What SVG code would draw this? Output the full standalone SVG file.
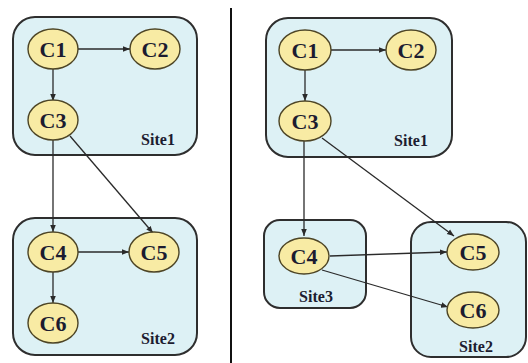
<svg xmlns="http://www.w3.org/2000/svg" width="528" height="363" viewBox="0 0 528 363">
  <defs>
    <style>
      .site { fill: #ddf1f5; stroke: #2e2e2e; stroke-width: 2; }
      .node ellipse { fill: #f8eba4; stroke: #4d4526; stroke-width: 1.4; }
      .node text { font-family: "Liberation Serif", "DejaVu Serif", serif; font-weight: bold; font-size: 22px; fill: #1c1c30; text-anchor: middle; }
      .label { font-family: "Liberation Serif", "DejaVu Serif", serif; font-weight: bold; font-size: 16px; fill: #1c1c30; text-anchor: middle; }
      .edge { stroke: #2a2a2a; stroke-width: 1.3; fill: none; marker-end: url(#arrow); }
      .divider { stroke: #111; stroke-width: 2; }
    </style>
    <marker id="arrow" viewBox="0 0 10 10" refX="10" refY="5" markerWidth="7" markerHeight="7" markerUnits="userSpaceOnUse" orient="auto">
      <path d="M0,1 L10,5 L0,9 z" fill="#2a2a2a"/>
    </marker>
  </defs>
  <rect width="528" height="363" fill="#ffffff"/>

  <line class="divider" x1="231" y1="8" x2="231" y2="363"/>

  <!-- left configuration: sites -->
  <g id="left-site1">
    <rect class="site" x="13" y="17" width="184" height="138" rx="22"/>
    <text class="label" x="158" y="145">Site1</text>
  </g>
  <g id="left-site2">
    <rect class="site" x="13" y="218" width="184" height="137" rx="22"/>
    <text class="label" x="158" y="344">Site2</text>
  </g>

  <!-- right configuration: sites -->
  <g id="right-site1">
    <rect class="site" x="266" y="18" width="186" height="139" rx="22"/>
    <text class="label" x="411" y="146">Site1</text>
  </g>
  <g id="right-site3">
    <rect class="site" x="264" y="220" width="102" height="88" rx="16"/>
    <text class="label" x="316" y="302">Site3</text>
  </g>
  <g id="right-site2">
    <rect class="site" x="411" y="222" width="115" height="135" rx="20"/>
    <text class="label" x="476" y="352">Site2</text>
  </g>

  <!-- connectors -->
  <g id="connectors">
    <line class="edge" x1="78" y1="49" x2="130" y2="49"/>
    <line class="edge" x1="53" y1="69" x2="53" y2="101"/>
    <line class="edge" x1="53" y1="140" x2="53" y2="232"/>
    <line class="edge" x1="70" y1="136" x2="153" y2="233"/>
    <line class="edge" x1="78" y1="252" x2="129" y2="252"/>
    <line class="edge" x1="53" y1="272" x2="53" y2="303"/>

    <line class="edge" x1="331" y1="50" x2="386" y2="50"/>
    <line class="edge" x1="305" y1="70" x2="305" y2="101"/>
    <line class="edge" x1="304" y1="141" x2="304" y2="236"/>
    <line class="edge" x1="322" y1="138" x2="454" y2="236"/>
    <line class="edge" x1="330" y1="256" x2="447" y2="252"/>
    <line class="edge" x1="322" y1="270" x2="448" y2="307"/>
  </g>

  <!-- left nodes -->
  <g id="left-c1" class="node"><ellipse cx="53" cy="49" rx="25" ry="20"/><text x="53" y="57">C1</text></g>
  <g id="left-c2" class="node"><ellipse cx="155" cy="49" rx="25" ry="20"/><text x="155" y="57">C2</text></g>
  <g id="left-c3" class="node"><ellipse cx="53" cy="120" rx="25" ry="20"/><text x="53" y="128">C3</text></g>
  <g id="left-c4" class="node"><ellipse cx="53" cy="252" rx="25" ry="20"/><text x="53" y="260">C4</text></g>
  <g id="left-c5" class="node"><ellipse cx="154" cy="252" rx="25" ry="20"/><text x="154" y="260">C5</text></g>
  <g id="left-c6" class="node"><ellipse cx="53" cy="323" rx="25" ry="20"/><text x="53" y="331">C6</text></g>

  <!-- right nodes -->
  <g id="right-c1" class="node"><ellipse cx="305" cy="50" rx="26" ry="20"/><text x="305" y="58">C1</text></g>
  <g id="right-c2" class="node"><ellipse cx="411" cy="50" rx="25" ry="20"/><text x="411" y="58">C2</text></g>
  <g id="right-c3" class="node"><ellipse cx="305" cy="121" rx="26" ry="20"/><text x="305" y="129">C3</text></g>
  <g id="right-c4" class="node"><ellipse cx="304" cy="256" rx="25" ry="18"/><text x="304" y="264">C4</text></g>
  <g id="right-c5" class="node"><ellipse cx="473" cy="252" rx="26" ry="18"/><text x="473" y="260">C5</text></g>
  <g id="right-c6" class="node"><ellipse cx="473" cy="310" rx="26" ry="18"/><text x="473" y="318">C6</text></g>
</svg>
